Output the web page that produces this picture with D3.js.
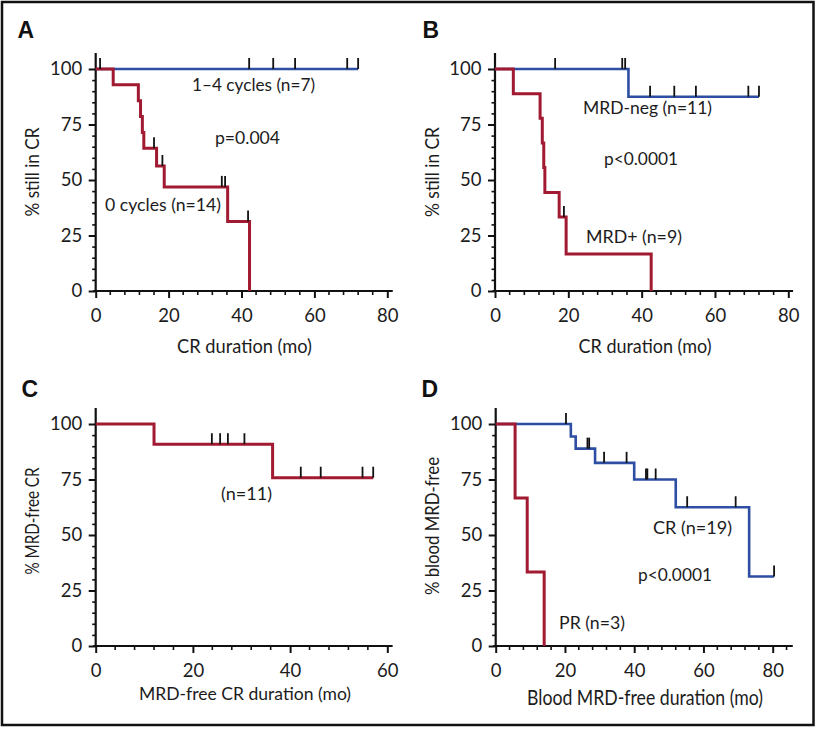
<!DOCTYPE html>
<html><head><meta charset="utf-8">
<script src="https://cdn.jsdelivr.net/npm/d3@7"></script>
<style>body{margin:0;background:#fff}svg{display:block}</style>
</head><body><svg id="c" width="817" height="729"></svg>
<script>
// ---------- data ----------
const yTicks = [0, 25, 50, 75, 100];
const xTicks80 = [0, 20, 40, 60, 80];
const xTicks60 = [0, 20, 40, 60];

// Panel A
const aCyclesT = [0, 72.0];
const aCyclesS = [100, 100];
const aCyclesCens = [1.2, 42.1, 48.7, 54.7, 69.0, 72.0];
const aZeroT = [0, 4.8, 11.7, 12.3, 12.8, 13.2, 16.7, 18.8, 36.2, 42.2];
const aZeroS = [100, 92.9, 85.7, 78.6, 71.4, 64.3, 56.3, 46.9, 31.3, 0];
const aZeroCens = [16.0, 18.3, 34.6, 35.5, 41.8];

// Panel B
const bNegT = [0, 36.4, 72.0];
const bNegS = [100, 87.5, 87.5];
const bNegCens = [16.4, 34.7, 35.5, 42.3, 48.9, 54.8, 69.1, 72.0];
const bPosT = [0, 5.0, 12.3, 12.9, 13.3, 13.6, 17.5, 19.4, 42.6];
const bPosS = [100, 88.9, 77.8, 66.7, 55.6, 44.4, 33.3, 16.7, 0];
const bPosCens = [18.8];

// Panel C
const cT = [0, 12.0, 36.4, 57.1];
const cS = [100, 90.9, 75.8, 75.8];
const cCens = [23.9, 25.6, 27.2, 30.6, 42.2, 46.3, 54.9, 57.1];

// Panel D
const dCrT = [0, 21.7, 23.1, 28.7, 40.0, 52.0, 73.2, 80.4];
const dCrS = [100, 94.4, 88.9, 82.5, 75.0, 62.5, 31.3, 31.3];
const dCrCens = [20.3, 26.5, 27.0, 31.3, 37.8, 43.4, 43.8, 46.2, 55.3, 69.3, 80.4];
const dPrT = [0, 5.6, 9.1, 14.0];
const dPrS = [100, 66.7, 33.3, 0];

// ---------- drawing ----------
const RED = "#a11a31", BLUE = "#2e4ea3", INK = "#111", TXT = "#1c1c1c";
const FONT = "Lato, 'Open Sans', sans-serif";
const svg = d3.select("#c");
svg.append("rect").attr("x", 0).attr("y", 0).attr("width", 817).attr("height", 729).attr("fill", "#fff");
svg.append("rect").attr("x", 2).attr("y", 2).attr("width", 811.5).attr("height", 723)
  .attr("fill", "none").attr("stroke", INK).attr("stroke-width", 2.5);

function stepAt(T, S, t) {
  const i = d3.bisectRight(T, t) - 1;
  return S[Math.max(0, i)];
}

function panel(cfg) {
  const x = d3.scaleLinear().domain([0, cfg.xMax]).range([cfg.x0, cfg.x1]);
  const y = d3.scaleLinear().domain([0, 100]).range([cfg.y0, cfg.y1]);
  const g = svg.append("g");

  // minor ticks y (every 5)
  const yMinor = d3.range(0, 101, 5).filter(v => v % 25 !== 0);
  g.append("g").attr("transform", `translate(${x(0)},0)`)
    .call(d3.axisLeft(y).tickValues(yMinor).tickSize(3.5).tickFormat(""))
    .call(s => { s.select(".domain").remove(); s.selectAll("line").attr("stroke", INK).attr("stroke-width", 1.6); });
  // major y
  g.append("g").attr("transform", `translate(${x(0)},0)`)
    .call(d3.axisLeft(y).tickValues(yTicks).tickSize(7).tickPadding(6.5))
    .call(s => {
      s.select(".domain").remove();
      s.selectAll("line").attr("stroke", INK).attr("stroke-width", 2);
      s.selectAll("text").attr("font-family", FONT).attr("font-size", 18.5).attr("fill", TXT);
    });
  // minor x
  const xMinor = d3.range(0, cfg.xEnd + 0.01, 4).filter(v => v % 20 !== 0);
  g.append("g").selectAll("line").data(xMinor).join("line")
    .attr("x1", d => x(d)).attr("x2", d => x(d))
    .attr("y1", y(0) - 1).attr("y2", y(0) + 4)
    .attr("stroke", INK).attr("stroke-width", 1.6);
  // major x
  g.append("g").attr("transform", `translate(0,${y(0)})`)
    .call(d3.axisBottom(x).tickValues(cfg.xTicks).tickSize(7).tickPadding(11))
    .call(s => {
      s.select(".domain").remove();
      s.selectAll("line").attr("stroke", INK).attr("stroke-width", 2);
      s.selectAll("text").attr("font-family", FONT).attr("font-size", 18.5).attr("fill", TXT);
    });
  // axis lines
  g.append("line").attr("x1", x(0)).attr("x2", x(0)).attr("y1", y(0) + 1).attr("y2", y(107.2))
    .attr("stroke", INK).attr("stroke-width", 2.2);
  g.append("line").attr("x1", x(0) - 2.5).attr("x2", x(cfg.xEnd)).attr("y1", y(0)).attr("y2", y(0))
    .attr("stroke", INK).attr("stroke-width", 2.2);

  const line = d3.line().x(d => x(d[0])).y(d => y(d[1])).curve(d3.curveStepAfter);
  cfg.series.forEach(s => {
    g.append("path").datum(d3.zip(s.T, s.S)).attr("d", line)
      .attr("fill", "none").attr("stroke", s.color).attr("stroke-width", s.w)
      .attr("stroke-linejoin", "miter");
  });
  cfg.series.forEach(s => {
    g.append("g").selectAll("line").data(s.cens).join("line")
      .attr("x1", d => x(d)).attr("x2", d => x(d))
      .attr("y1", d => y(stepAt(s.T, s.S, d))).attr("y2", d => y(stepAt(s.T, s.S, d)) - 11)
      .attr("stroke", INK).attr("stroke-width", 1.8);
  });

  // panel letter
  svg.append("text").attr("x", cfg.letter[1]).attr("y", cfg.letter[2]).text(cfg.letter[0])
    .attr("font-family", "'Liberation Sans', Arial, sans-serif").attr("font-weight", "bold")
    .attr("font-size", 23).attr("fill", "#111");
  // axis titles
  svg.append("text").attr("x", cfg.xTitle[1]).attr("y", cfg.xTitle[2]).text(cfg.xTitle[0])
    .attr("text-anchor", "middle").attr("font-family", FONT).attr("font-size", cfg.xTitle[4])
    .attr("textLength", cfg.xTitle[3]).attr("lengthAdjust", "spacingAndGlyphs").attr("fill", TXT);
  svg.append("text").attr("transform", `translate(${cfg.yTitle[1]},${cfg.yTitle[2]}) rotate(-90)`)
    .text(cfg.yTitle[0]).attr("text-anchor", "middle").attr("font-family", FONT).attr("font-size", 19)
    .attr("textLength", cfg.yTitle[3]).attr("lengthAdjust", "spacingAndGlyphs").attr("fill", TXT);
  // annotations
  cfg.notes.forEach(n => {
    svg.append("text").attr("x", n[1]).attr("y", n[2]).text(n[0])
      .attr("font-family", FONT).attr("font-size", 17.5).attr("fill", TXT)
      .attr("textLength", n[3]).attr("lengthAdjust", "spacingAndGlyphs");
  });
}

panel({
  xMax: 80, xEnd: 81.5, x0: 95.7, x1: 387.3, y0: 291, y1: 69, xTicks: xTicks80,
  series: [
    { T: aCyclesT, S: aCyclesS, cens: aCyclesCens, color: BLUE, w: 2.6 },
    { T: aZeroT, S: aZeroS, cens: aZeroCens, color: RED, w: 3 }
  ],
  letter: ["A", 17.5, 38],
  xTitle: ["CR duration (mo)", 244.5, 353, 135, 19],
  yTitle: ["% still in CR", 39, 172, 89],
  notes: [["1–4 cycles (n=7)", 192, 91, 123], ["p=0.004", 215, 144, 65], ["0 cycles (n=14)", 105, 211, 116]]
});
panel({
  xMax: 80, xEnd: 81.3, x0: 495, x1: 788.3, y0: 291, y1: 69, xTicks: xTicks80,
  series: [
    { T: bNegT, S: bNegS, cens: bNegCens, color: BLUE, w: 2.6 },
    { T: bPosT, S: bPosS, cens: bPosCens, color: RED, w: 3 }
  ],
  letter: ["B", 422.5, 38],
  xTitle: ["CR duration (mo)", 645, 353, 133, 19],
  yTitle: ["% still in CR", 438.5, 172, 90],
  notes: [["MRD-neg (n=11)", 583, 114, 129], ["p<0.0001", 604, 165, 74], ["MRD+ (n=9)", 586, 243, 96]]
});
panel({
  xMax: 60, xEnd: 61.1, x0: 95.7, x1: 387.3, y0: 646, y1: 424, xTicks: xTicks60,
  series: [
    { T: cT, S: cS, cens: cCens, color: RED, w: 3 }
  ],
  letter: ["C", 21.5, 397],
  xTitle: ["MRD-free CR duration (mo)", 245, 700, 212, 18],
  yTitle: ["% MRD-free CR", 39, 521, 107],
  notes: [["(n=11)", 221, 500, 51]]
});
panel({
  xMax: 80, xEnd: 85.8, x0: 495.7, x1: 772.7, y0: 646, y1: 424, xTicks: xTicks80,
  series: [
    { T: dCrT, S: dCrS, cens: dCrCens, color: BLUE, w: 2.6 },
    { T: dPrT, S: dPrS, cens: [], color: RED, w: 3 }
  ],
  letter: ["D", 421.5, 397],
  xTitle: ["Blood MRD-free duration (mo)", 645, 705, 236, 21],
  yTitle: ["% blood MRD-free", 438.5, 526, 138],
  notes: [["CR (n=19)", 653, 534, 79], ["p<0.0001", 638, 581, 74], ["PR (n=3)", 559, 629, 66]]
});
</script></body></html>
